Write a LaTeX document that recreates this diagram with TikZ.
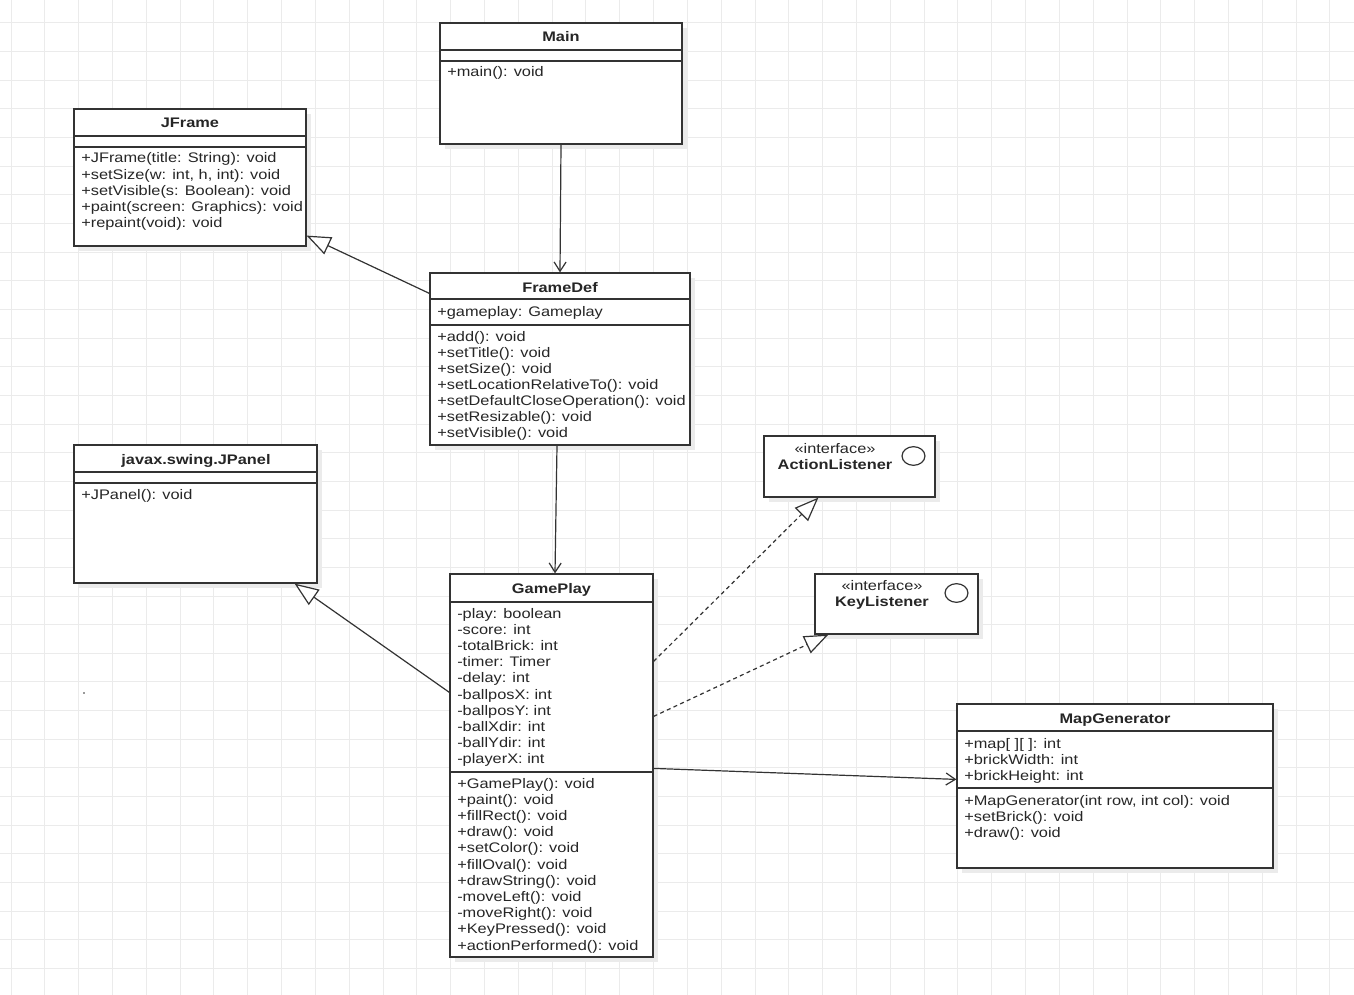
\documentclass[tikz,border=0pt]{standalone}
\usepackage{fontspec}
\setmainfont{Liberation Sans}[FakeStretch=1.18]
\usetikzlibrary{arrows.meta,calc,fit,shadows}
\definecolor{gridc}{HTML}{EBEBEB}
\definecolor{linec}{HTML}{333333}
\definecolor{textc}{HTML}{262626}
\newcommand{\umlfont}{\fontsize{10.4}{12.1}\selectfont}
\begin{document}
\begin{tikzpicture}[x=0.75pt,y=-0.75pt,
  gridline/.style={gridc, line width=0.75pt},
  classbox/.style={draw=linec, line width=0.9pt, fill=white, inner sep=0pt,
    drop shadow={shadow xshift=4pt, shadow yshift=-4pt, fill=black!8, opacity=1}},
  sep/.style={linec, line width=0.9pt},
  member/.style={anchor=base west, inner sep=0pt, text=textc, font=\umlfont},
  title/.style={anchor=base, inner sep=0pt, text=textc, font=\umlfont\bfseries},
  stereo/.style={anchor=base, inner sep=0pt, text=textc, font=\umlfont},
  assoc/.style={linec, line width=0.9pt, -{Straight Barb[length=7pt,width=9pt]}},
  gen/.style={linec, line width=0.9pt, -{Triangle[open, fill=white, length=18pt, width=14pt]}},
  real/.style={gen, dash pattern=on 3pt off 2.5pt},
]
% background and bounding box
\fill[white] (0,0) rectangle (1354,995);
\useasboundingbox (0,0) rectangle (1354,995);
% grid
\foreach \k in {0,...,39} \draw[gridline] ({11+33.82*\k},0) -- ({11+33.82*\k},995);
\foreach \k in {0,...,33} \draw[gridline] (0,{23+28.65*\k}) -- (1354,{23+28.65*\k});

% ---------- Main ----------
\node[classbox, fit={(440,23) (682,144)}] (main) {};
\draw[sep] (440,50) -- (682,50);
\draw[sep] (440,61) -- (682,61);
\node[title] (main-t) at (561,42) {Main};
\node[member] (main-m1) at (447,77) {+main(): void};

% ---------- JFrame ----------
\node[classbox, fit={(74,109) (306,246)}] (jf) {};
\draw[sep] (74,136) -- (306,136);
\draw[sep] (74,147) -- (306,147);
\node[title] (jf-t) at (190,128) {JFrame};
\foreach \t [count=\i] in {{+JFrame(title: String): void},{+setSize(w: int, h, int): void},{+setVisible(s: Boolean): void},{+paint(screen: Graphics): void},{+repaint(void): void}}
  \node[member] (jf-m\i) at (81,{163+16.25*(\i-1)}) {\t};

% ---------- FrameDef ----------
\node[classbox, fit={(430,273) (690,445)}] (fd) {};
\draw[sep] (430,299) -- (690,299);
\draw[sep] (430,325) -- (690,325);
\node[title] (fd-t) at (560,292) {FrameDef};
\node[member] (fd-a1) at (437,316) {+gameplay: Gameplay};
\foreach \t [count=\i] in {{+add(): void},{+setTitle(): void},{+setSize(): void},{+setLocationRelativeTo(): void},{+setDefaultCloseOperation(): void},{+setResizable(): void},{+setVisible(): void}}
  \node[member] (fd-m\i) at (437,{341+16.1*(\i-1)}) {\t};

% ---------- JPanel ----------
\node[classbox, fit={(74,445) (317,583)}] (jp) {};
\draw[sep] (74,472) -- (317,472);
\draw[sep] (74,483) -- (317,483);
\node[title] (jp-t) at (196,464) {javax.swing.JPanel};
\node[member] (jp-m1) at (81,499) {+JPanel(): void};

% ---------- ActionListener ----------
\node[classbox, fit={(764,436) (935,497)}] (al) {};
\node[stereo] (al-s) at (835,453) {«interface»};
\node[title] (al-t) at (835,469) {ActionListener};
\draw[linec, line width=0.9pt] (913.5,456) ellipse [x radius=8.6pt, y radius=7pt];

% ---------- KeyListener ----------
\node[classbox, fit={(815,574) (978,634)}] (kl) {};
\node[stereo] (kl-s) at (882,590) {«interface»};
\node[title] (kl-t) at (882,606) {KeyListener};
\draw[linec, line width=0.9pt] (956.5,593) ellipse [x radius=8.6pt, y radius=7pt];

% ---------- GamePlay ----------
\node[classbox, fit={(450,574) (653,957)}] (gp) {};
\draw[sep] (450,602) -- (653,602);
\draw[sep] (450,772) -- (653,772);
\node[title] (gp-t) at (551.5,593) {GamePlay};
\foreach \t [count=\i] in {{-play: boolean},{-score: int},{-totalBrick: int},{-timer: Timer},{-delay: int},{-ballposX: int},{-ballposY: int},{-ballXdir: int},{-ballYdir: int},{-playerX: int}}
  \node[member] (gp-a\i) at (457,{618+16.2*(\i-1)}) {\t};
\foreach \t [count=\i] in {{+GamePlay(): void},{+paint(): void},{+fillRect(): void},{+draw(): void},{+setColor(): void},{+fillOval(): void},{+drawString(): void},{-moveLeft(): void},{-moveRight(): void},{+KeyPressed(): void},{+actionPerformed(): void}}
  \node[member] (gp-m\i) at (457,{788+16.2*(\i-1)}) {\t};

% ---------- MapGenerator ----------
\node[classbox, fit={(957,704) (1273,868)}] (mg) {};
\draw[sep] (957,731) -- (1273,731);
\draw[sep] (957,788) -- (1273,788);
\node[title] (mg-t) at (1115,723) {MapGenerator};
\foreach \t [count=\i] in {{+map[ ][ ]: int},{+brickWidth: int},{+brickHeight: int}}
  \node[member] (mg-a\i) at (964,{748+16.1*(\i-1)}) {\t};
\foreach \t [count=\i] in {{+MapGenerator(int row, int col): void},{+setBrick(): void},{+draw(): void}}
  \node[member] (mg-m\i) at (964,{805+16.1*(\i-1)}) {\t};

% stray dot
\fill[linec] (84,693) circle [radius=0.7pt];

% ---------- connectors ----------
\draw[assoc] (main.south) -- (fd.north);
\draw[assoc] ($(fd.south)+(-3,0)$) -- ($(gp.north)+(3.5,0)$);
\draw[gen] ($(fd.north west)+(0,21)$) -- ($(jf.south east)+(0,-11)$);
\draw[gen] ($(gp.north west)+(0,119)$) -- ($(jp.south east)+(-23,0)$);
\draw[real] ($(gp.north east)+(0,88)$) -- ($(al.south west)+(55,0)$);
\draw[real] ($(gp.north east)+(0,143)$) -- ($(kl.south west)+(14,0)$);
\draw[assoc] ($(gp.north east)+(0,195)$) -- ($(mg.north west)+(0,76)$);
\end{tikzpicture}
\end{document}
